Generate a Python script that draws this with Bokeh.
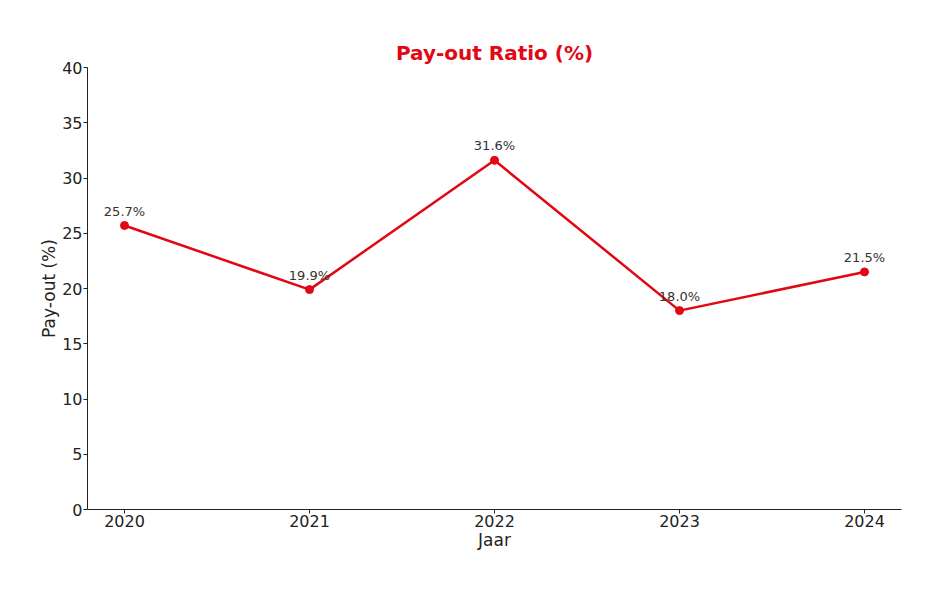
from bokeh.plotting import figure
from bokeh.models import ColumnDataSource, Range1d, FixedTicker, LabelSet
from bokeh.core.properties import value
from bokeh.embed import file_html
from bokeh.resources import INLINE

years = [2020, 2021, 2022, 2023, 2024]
payout = [25.7, 19.9, 31.6, 18.0, 21.5]
labels = [f"{v:.1f}%" for v in payout]
y_ticks = [0, 5, 10, 15, 20, 25, 30, 35, 40]

RED = "#e30613"
FONT = "DejaVu Sans"

src = ColumnDataSource(dict(x=years, y=payout, lab=labels))

p = figure(width=929, height=576, output_backend="svg", toolbar_location=None,
           x_range=Range1d(2019.8, 2024.2), y_range=Range1d(0, 40),
           min_border_left=87, min_border_right=28, min_border_top=67, min_border_bottom=67)

p.title.text = "Pay-out Ratio (%)"
p.title.align = "center"
p.title.text_color = RED
p.title.text_font = FONT
p.title.text_font_size = "20px"
p.title.text_font_style = "bold"
p.title.standoff = 6

p.line("x", "y", source=src, line_color=RED, line_width=2.5)
p.scatter("x", "y", source=src, size=8, fill_color=RED, line_color=RED)

ls = LabelSet(x="x", y="y", text="lab", source=src, y_offset=7, text_align="center",
              text_baseline="bottom", text_font_size="13px", text_color="#333333",
              text_font=value(FONT))
p.add_layout(ls)

p.grid.visible = False
p.outline_line_color = None
p.background_fill_color = "white"
p.border_fill_color = "white"

p.xaxis.ticker = FixedTicker(ticks=years)
p.yaxis.ticker = FixedTicker(ticks=y_ticks)
p.xaxis.axis_label = "Jaar"
p.yaxis.axis_label = "Pay-out (%)"
for ax in (p.xaxis, p.yaxis):
    ax.axis_line_color = "#222222"
    ax.axis_line_width = 1
    ax.major_tick_line_color = "#222222"
    ax.major_tick_out = 4
    ax.major_tick_in = 0
    ax.minor_tick_line_color = None
    ax.major_label_text_font = FONT
    ax.major_label_text_font_size = "16px"
    ax.major_label_text_color = "#222222"
    ax.axis_label_text_font = FONT
    ax.axis_label_text_font_size = "17px"
    ax.axis_label_text_font_style = "normal"
    ax.axis_label_text_color = "#222222"
    ax.major_label_standoff = 1
p.yaxis.axis_label_standoff = 0
p.xaxis.axis_label_standoff = 0

open("out.html", "w").write(file_html(p, INLINE))
